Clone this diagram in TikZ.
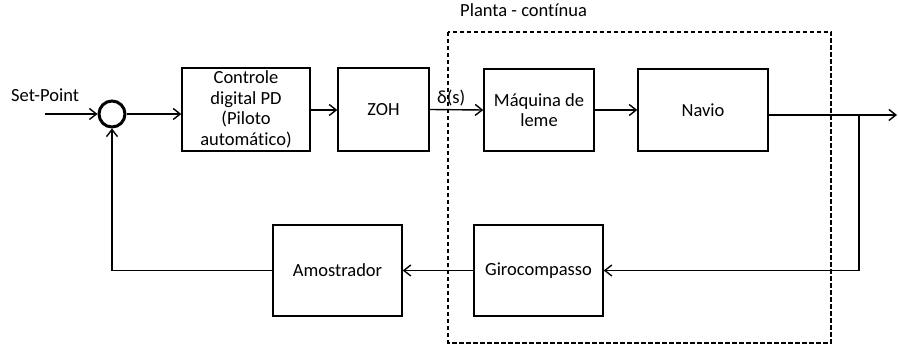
\documentclass[tikz,border=0pt]{standalone}
\usepackage{fontspec}
\setmainfont{Carlito}[Ligatures=NoCommon]
\usetikzlibrary{arrows.meta}
\begin{document}
\begin{tikzpicture}[x=1pt,y=-1pt,
  every node/.style={font=\fontsize{18.5}{20.5}\selectfont},
  blk/.style={draw, line width=1.4pt, align=center, inner sep=0pt},
  arr/.style={line width=1.4pt, -{Straight Barb[length=7pt,width=11pt,line width=1.4pt]}},
  plant/.style={line width=1.4pt, dash pattern=on 4.5pt off 2.5pt}]
\useasboundingbox (0,0) rectangle (898,347);

% plant boundary and its caption
\draw[plant] (448,32) rectangle (831,343);
\node[anchor=base west, inner sep=0pt] (plantlbl) at (460,17) {Planta - contínua};

% forward path
\node[draw, circle, line width=3pt, minimum size=26pt, inner sep=0pt] (sum) at (112,114) {};
\node[blk, minimum width=128pt, minimum height=83pt] (ctrl) at (246,109.5)
  {Controle\\digital PD\\(Piloto\\automático)};
\node[blk, minimum width=91pt, minimum height=83pt] (zoh) at (383.5,109.5) {ZOH};
\node[blk, minimum width=110pt, minimum height=82pt] (maq) at (539,110) {Máquina de\\leme};
\node[blk, minimum width=130pt, minimum height=82pt] (navio) at (703,110) {Navio};

% feedback path
\node[blk, minimum width=129pt, minimum height=91pt] (giro) at (538.5,270.5) {Girocompasso};
\node[blk, minimum width=129pt, minimum height=91pt] (amos) at (337.5,270.5) {Amostrador};

% signal labels
\node[anchor=base west, inner sep=0pt] (sp) at (11,102) {Set-Point};
\node[anchor=base west, inner sep=0pt] (delta) at (437,104) {δ(s)};

% connectors
\coordinate (in) at (45,114);
\coordinate (out) at (897,115);
\coordinate (br) at (859,115);
\coordinate (brd) at (859,270.5);
\draw[arr] (in) -- (sum.west);
\draw[arr] (sum.east) -- (sum.east -| ctrl.west);
\draw[arr] (ctrl.east |- 0,110) -- (zoh.west |- 0,110);
\draw[arr] (zoh.east) -- (maq.west);
\draw[arr] (maq.east) -- (navio.east -| navio.west);
\draw[arr] (navio.east |- out) -- (out);
\draw[arr] (br) -- (brd) -- (giro.east);
\draw[arr] (giro.west) -- (amos.east);
\draw[arr] (amos.west) -- (amos.west -| sum.south) -- (sum.south);
\end{tikzpicture}
\end{document}
